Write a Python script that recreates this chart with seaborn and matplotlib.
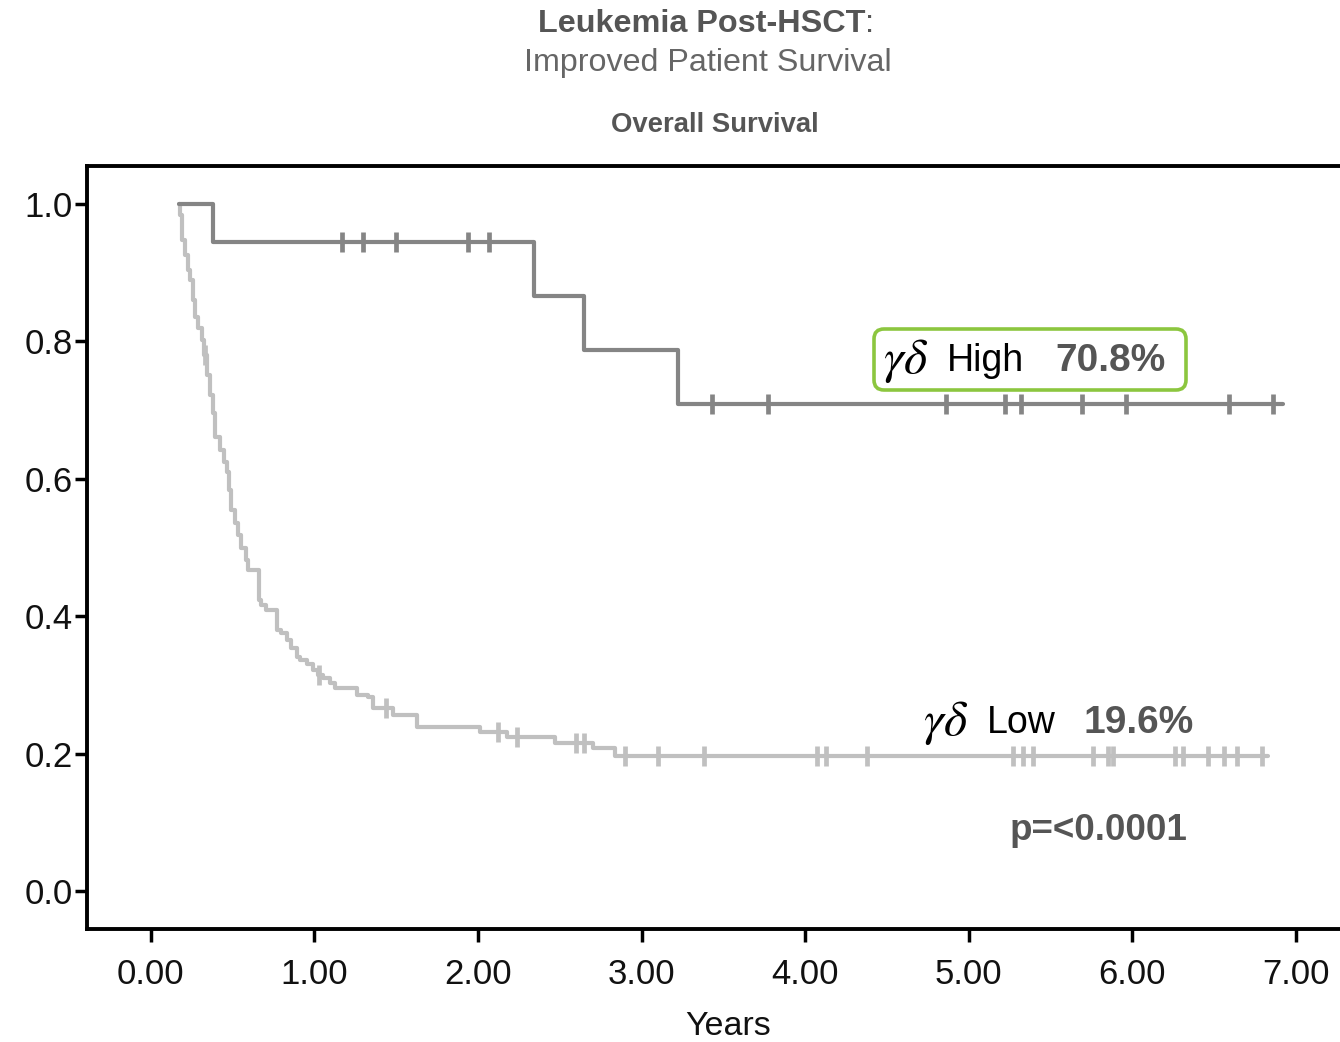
import numpy as np
import pandas as pd
import matplotlib
matplotlib.use("Agg")
import matplotlib.pyplot as plt
import seaborn as sns
from matplotlib.patches import FancyBboxPatch
from matplotlib.transforms import IdentityTransform

# ---------------- data ----------------
high_times = [0.17, 0.38, 2.34, 2.65, 3.22, 6.92]
high_surv = [1.000, 0.945, 0.866, 0.787, 0.709, 0.709]
high_censor = [1.17, 1.30, 1.50, 1.94, 2.07, 3.43, 3.77, 4.86, 5.22, 5.32,
               5.69, 5.96, 6.59, 6.86]

low_times = [0.171, 0.177, 0.190, 0.208, 0.226, 0.239, 0.257, 0.269, 0.287,
             0.312, 0.324, 0.343, 0.361, 0.379, 0.391, 0.422, 0.446, 0.465,
             0.477, 0.489, 0.514, 0.532, 0.550, 0.581, 0.593, 0.660, 0.673,
             0.703, 0.771, 0.795, 0.832, 0.856, 0.893, 0.911, 0.954, 0.991,
             1.021, 1.052, 1.095, 1.125, 1.260, 1.327, 1.358, 1.480, 1.627,
             2.012, 2.177, 2.471, 2.703, 2.838, 6.83]
low_surv = [1.000, 0.984, 0.948, 0.926, 0.904, 0.889, 0.860, 0.836, 0.819,
            0.802, 0.780, 0.751, 0.722, 0.696, 0.661, 0.642, 0.624, 0.610,
            0.584, 0.555, 0.536, 0.518, 0.499, 0.482, 0.467, 0.424, 0.416,
            0.409, 0.380, 0.376, 0.365, 0.354, 0.341, 0.336, 0.330, 0.322,
            0.314, 0.310, 0.303, 0.295, 0.285, 0.282, 0.266, 0.256, 0.239,
            0.231, 0.224, 0.215, 0.208, 0.196, 0.196]
low_censor = [0.33, 1.03, 1.44, 2.12, 2.24, 2.60, 2.65, 2.90, 3.10, 3.38,
              4.07, 4.13, 4.38, 5.27, 5.33, 5.39, 5.76, 5.85, 5.88, 6.26,
              6.31, 6.46, 6.56, 6.64, 6.79]

x_ticks = [0, 1, 2, 3, 4, 5, 6, 7]
x_ticklabels = ["0.00", "1.00", "2.00", "3.00", "4.00", "5.00", "6.00", "7.00"]
y_ticks = [0.0, 0.2, 0.4, 0.6, 0.8, 1.0]
y_ticklabels = ["0.0", "0.2", "0.4", "0.6", "0.8", "1.0"]

# ---------------- style ----------------
sns.set_theme(style="white")
plt.rcParams["font.family"] = ["Liberation Sans", "DejaVu Sans"]
plt.rcParams["mathtext.fontset"] = "stix"

W, H = 1340, 1042
fig = plt.figure(figsize=(W / 100, H / 100), dpi=100)
ax = fig.add_axes([87 / W, (H - 929) / H, (1345 - 87) / W, (929 - 166) / H])

HIGH_C = "#858585"
LOW_C = "#c0c0c0"

def step_value(times, surv, t):
    idx = np.searchsorted(times, t, side="right") - 1
    return np.asarray(surv)[idx]

df_high = pd.DataFrame({"t": high_times, "s": high_surv})
df_low = pd.DataFrame({"t": low_times, "s": low_surv})
sns.lineplot(data=df_low, x="t", y="s", ax=ax, estimator=None, sort=False,
             drawstyle="steps-post", color=LOW_C, linewidth=3.0)
sns.lineplot(data=df_high, x="t", y="s", ax=ax, estimator=None, sort=False,
             drawstyle="steps-post", color=HIGH_C, linewidth=3.0)

cen_low = pd.DataFrame({"t": low_censor,
                        "s": step_value(low_times, low_surv, low_censor)})
cen_high = pd.DataFrame({"t": high_censor,
                         "s": step_value(high_times, high_surv, high_censor)})
sns.scatterplot(data=cen_low, x="t", y="s", ax=ax, marker="|", s=200,
                color=LOW_C, linewidth=3.4)
sns.scatterplot(data=cen_high, x="t", y="s", ax=ax, marker="|", s=200,
                color=HIGH_C, linewidth=3.4)

ax.set_xlim(-0.39, 7.30)
ax.set_ylim(-0.0553, 1.0553)
ax.set_xticks(x_ticks)
ax.set_xticklabels(x_ticklabels)
ax.set_yticks(y_ticks)
ax.set_yticklabels(y_ticklabels)
ax.tick_params(axis="both", direction="out", length=9, width=2.5,
               color="black", labelsize=25, labelcolor="#111111",
               left=True, bottom=True)
ax.tick_params(axis="x", pad=12)
ax.tick_params(axis="y", pad=1)
ax.set_xlabel("Years", fontsize=24.5, color="#111111")
ax.xaxis.set_label_coords((728 - 87) / 1258, -0.107)
ax.set_ylabel("")
for side in ["left", "top", "bottom", "right"]:
    ax.spines[side].set_visible(True)
    ax.spines[side].set_color("black")
    ax.spines[side].set_linewidth(2.8)

# ---------------- titles ----------------
fig.text(865 / W, 1 - 24 / H, "Leukemia Post-HSCT", ha="right", va="center",
         fontsize=23.3, fontweight="bold", color="#555555")
fig.text(865 / W, 1 - 24 / H, ":", ha="left", va="center",
         fontsize=23.3, color="#555555")
fig.text(708 / W, 1 - 63 / H, "Improved Patient Survival", ha="center",
         va="center", fontsize=23.2, color="#666666")
fig.text(715 / W, 1 - 125 / H, "Overall Survival", ha="center", va="center",
         fontsize=19.8, fontweight="bold", color="#555555")

# ---------------- annotations ----------------
box = FancyBboxPatch((874, H - 390), 312, 61,
                     boxstyle="round,pad=0,rounding_size=10",
                     transform=IdentityTransform(), facecolor="white",
                     edgecolor="#8cc63f", linewidth=2.6, zorder=5)
fig.add_artist(box)

def label(xg, xw, xp, y, word, pct):
    yf = 1 - y / H
    fig.text(xg / W, yf, r"$\gamma\delta$", ha="left", va="center",
             fontsize=36, color="black", zorder=6)
    fig.text(xw / W, yf, word, ha="left", va="center", fontsize=27,
             color="black", zorder=6)
    fig.text(xp / W, yf, pct, ha="left", va="center", fontsize=28,
             fontweight="bold", color="#555555", zorder=6)

label(883, 947, 1055, 361, "High", "70.8%")
label(923, 987, 1083, 723, "Low", "19.6%")
fig.text(1187 / W, 1 - 831 / H, "p=<0.0001", ha="right", va="center",
         fontsize=26.5, fontweight="bold", color="#555555")

fig.savefig("out.png", dpi=100, facecolor="white")
